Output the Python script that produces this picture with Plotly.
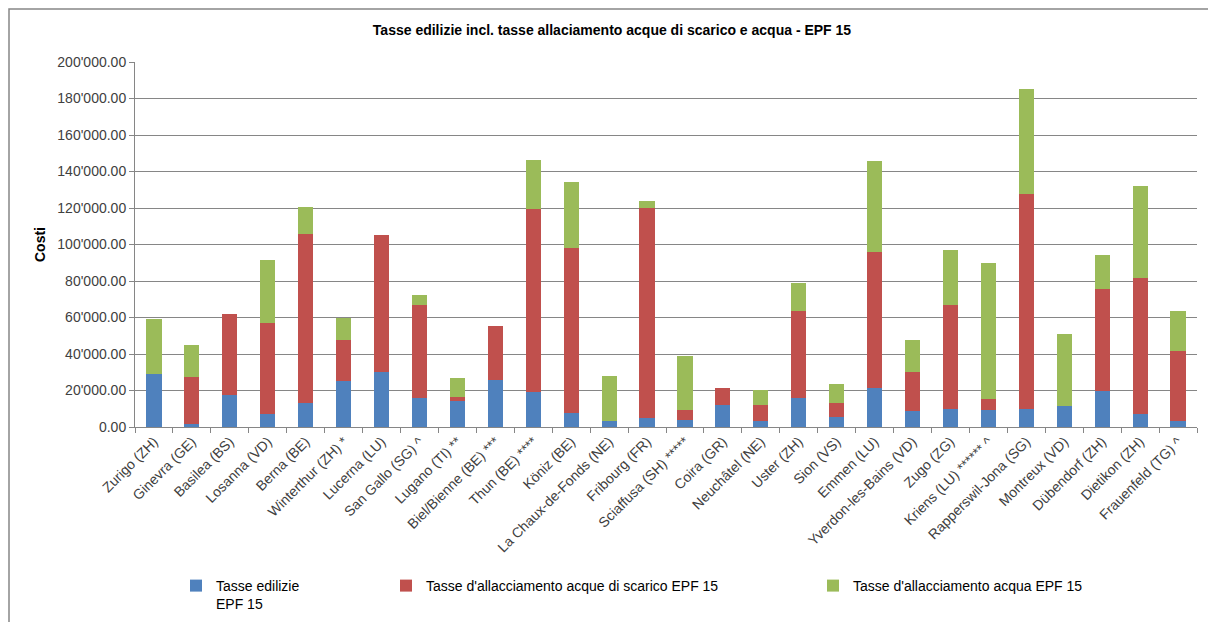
import plotly.graph_objects as go

categories = [
    "Zurigo (ZH)", "Ginevra (GE)", "Basilea (BS)", "Losanna (VD)", "Berna (BE)",
    "Winterthur (ZH) *", "Lucerna (LU)", "San Gallo (SG) ^", "Lugano (TI) **",
    "Biel/Bienne (BE) ***", "Thun (BE) ****", "Köniz (BE)", "La Chaux-de-Fonds (NE)",
    "Fribourg (FR)", "Sciaffusa (SH) *****", "Coira (GR)", "Neuchâtel (NE)",
    "Uster (ZH)", "Sion (VS)", "Emmen (LU)", "Yverdon-les-Bains (VD)", "Zugo (ZG)",
    "Kriens (LU) ****** ^", "Rapperswil-Jona (SG)", "Montreux (VD)",
    "Dübendorf (ZH)", "Dietikon (ZH)", "Frauenfeld (TG) ^",
]

tasse_edilizie = [
    29000, 1800, 17600, 7200, 13000, 25100, 30400, 16100, 14500, 25900,
    19300, 7700, 3300, 4800, 4000, 12300, 3100, 16100, 5500, 21400,
    8600, 9900, 9400, 9900, 11700, 19800, 7000, 3300,
]
tasse_scarico = [
    0, 25700, 44400, 49600, 92900, 22700, 74600, 50600, 1800, 29500,
    100200, 90500, 0, 115200, 5400, 9100, 9200, 47700, 7700, 74600,
    21800, 56800, 6000, 117900, 0, 55900, 74600, 38200,
]
tasse_acqua = [
    30000, 17200, 0, 34700, 14900, 12100, 0, 5900, 10300, 0,
    27000, 36300, 24700, 3900, 29300, 0, 8200, 15000, 10400, 49900,
    17400, 30100, 74600, 57200, 39100, 18600, 50500, 21800,
]

series_names = [
    "Tasse edilizie<br>EPF 15",
    "Tasse d'allacciamento acque di scarico EPF 15",
    "Tasse d'allacciamento acqua EPF 15",
]
series_colors = ["#4F81BD", "#C0504D", "#9BBB59"]
series_values = [tasse_edilizie, tasse_scarico, tasse_acqua]
legend_ids = ["legend", "legend2", "legend3"]

fig = go.Figure()
for name, color, vals, lg in zip(series_names, series_colors, series_values, legend_ids):
    fig.add_trace(go.Bar(
        x=categories, y=vals, name=name, legend=lg, showlegend=True,
        marker=dict(color=color, line=dict(width=0)),
    ))

# page offset (body margin) and figure size
OFF = 8
FW, FH = 1216 - OFF, 622 - OFF
# plot area in screen pixels: x 135..1197, y 62..427
L, R, T, B = 135 - OFF, 1197 - OFF, 62 - OFF, 427 - OFF
W, H = R - L, B - T
def px_x(p):
    return (p - OFF - L) / W
def px_y(p):
    return (B - (p - OFF)) / H

legend_font = dict(family="Liberation Sans, Arial", size=14, color="#000000")
common_leg = dict(orientation="h", yanchor="top", xanchor="left", font=legend_font,
                  bgcolor="rgba(0,0,0,0)", borderwidth=0, itemclick=False,
                  itemdoubleclick=False, visible=True, valign="top")

tick_font = dict(family="Liberation Sans, Arial", size=14, color="#404040")

fig.update_layout(
    width=FW, height=FH,
    margin=dict(l=L, r=FW - R, t=T, b=FH - B, autoexpand=False),
    paper_bgcolor="white", plot_bgcolor="white",
    barmode="stack", bargap=0.6,
    separators=".'",
    showlegend=True,
    title=dict(
        text="<b>Tasse edilizie incl. tasse allaciamento acque di scarico e acqua - EPF 15</b>",
        x=0.5, xanchor="center", y=1 - (30 - OFF) / FH, yanchor="middle",
        font=dict(family="Liberation Sans, Arial", size=14, color="#000000"),
    ),
    font=dict(family="Liberation Sans, Arial", size=14, color="#404040"),
    legend=dict(x=px_x(176), y=px_y(570), **common_leg),
    legend2=dict(x=px_x(386), y=px_y(570), **common_leg),
    legend3=dict(x=px_x(813), y=px_y(570), **common_leg),
    xaxis=dict(
        type="category", tickangle=-45, tickson="boundaries",
        ticks="outside", ticklen=5, tickcolor="#868686",
        showline=True, linecolor="#868686", linewidth=1,
        showgrid=False, automargin=False, tickfont=tick_font,
    ),
    yaxis=dict(
        range=[0, 200000], dtick=20000, tickformat=",.2f",
        ticks="outside", ticklen=5, tickcolor="#868686",
        showline=True, linecolor="#868686", linewidth=1,
        showgrid=True, gridcolor="#868686", gridwidth=1,
        zeroline=False, automargin=False,
        title=dict(text="<b>Costi</b>", standoff=8,
                   font=dict(family="Liberation Sans, Arial", size=14, color="#000000")),
        tickfont=tick_font,
    ),
    shapes=[dict(
        type="rect", xref="paper", yref="paper",
        x0=px_x(OFF + 1), x1=px_x(1215), y0=px_y(640), y1=px_y(OFF + 1),
        line=dict(color="#868686", width=1.5), fillcolor="rgba(0,0,0,0)", layer="below",
    )],
)

fig.write_html("out.html")
